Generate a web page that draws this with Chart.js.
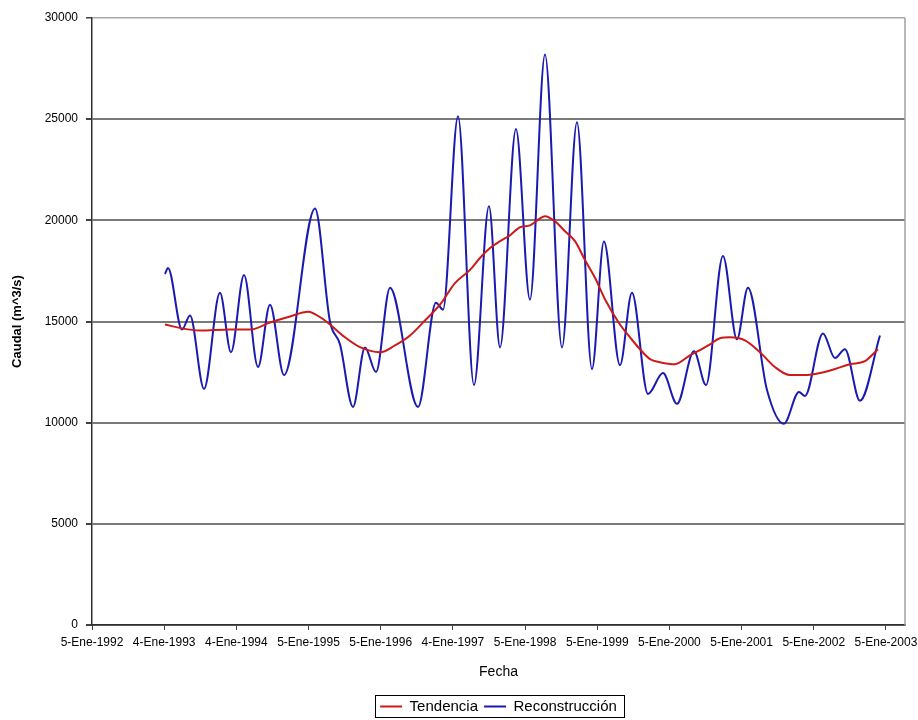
<!DOCTYPE html>
<html>
<head>
<meta charset="utf-8">
<script src="https://cdn.jsdelivr.net/npm/chart.js@4/dist/chart.umd.min.js"></script>
<style>
  body { margin: 0; background: #fff; }
</style>
</head>
<body>
<canvas id="caudalChart" width="918" height="720"></canvas>
<script>
// fechas en años decimales (eje lineal, una marca cada año desde 5-Ene-1992)
var etiquetasFecha = ['5-Ene-1992', '4-Ene-1993', '4-Ene-1994', '5-Ene-1995', '5-Ene-1996', '4-Ene-1997',
  '5-Ene-1998', '5-Ene-1999', '5-Ene-2000', '5-Ene-2001', '5-Ene-2002', '5-Ene-2003'];
var fechaTicks = [1992, 1993, 1994, 1995, 1996, 1997, 1998, 1999, 2000, 2001, 2002, 2003];
var caudalTicks = [0, 5000, 10000, 15000, 20000, 25000, 30000];

var fechaReconstruccion = [1993.011, 1993.053, 1993.247, 1993.358, 1993.552, 1993.773, 1993.926, 1994.106,
  1994.300, 1994.466, 1994.660, 1995.090, 1995.297, 1995.436, 1995.616, 1995.782, 1995.935, 1996.129,
  1996.517, 1996.766, 1996.863, 1997.071, 1997.292, 1997.500, 1997.653, 1997.874, 1998.068, 1998.276,
  1998.512, 1998.719, 1998.927, 1999.093, 1999.315, 1999.481, 1999.703, 1999.911, 2000.105, 2000.340,
  2000.507, 2000.742, 2000.936, 2001.088, 2001.352, 2001.587, 2001.795, 2001.878, 2002.127, 2002.294,
  2002.432, 2002.640, 2002.917];
var caudalReconstruccion = [17350, 17650, 14600, 15300, 11670, 16420, 13480, 17300,
  12750, 15830, 12350, 20590, 15000, 13870, 10780, 13720, 12500, 16670,
  10780, 15930, 15590, 25150, 11860, 20690, 13720, 24510, 16080, 28190,
  13720, 24850, 12650, 18950, 12840, 16420, 11420, 12450, 10930, 13530,
  11860, 18240, 14120, 16670, 11620, 9950, 11520, 11320, 14410, 13190,
  13630, 11080, 14310];

var fechaTendencia = [1993.011, 1993.247, 1993.496, 1993.912, 1994.189, 1994.466, 1994.743, 1994.992,
  1995.187, 1995.297, 1995.505, 1995.713, 1995.990, 1996.198, 1996.406, 1996.613, 1996.821, 1997.029,
  1997.237, 1997.375, 1997.514, 1997.653, 1997.791, 1997.930, 1998.068, 1998.207, 1998.276, 1998.415,
  1998.553, 1998.692, 1998.830, 1998.969, 1999.107, 1999.315, 1999.454, 1999.592, 1999.731, 1999.869,
  2000.077, 2000.285, 2000.423, 2000.562, 2000.700, 2000.839, 2001.047, 2001.255, 2001.462, 2001.670,
  2001.878, 2002.086, 2002.294, 2002.501, 2002.709, 2002.889];
var caudalTendencia = [14850, 14660, 14560, 14610, 14600, 14950, 15250, 15480,
  15150, 14850, 14220, 13730, 13480, 13820, 14310, 15050, 15830, 16900,
  17550, 18140, 18630, 18970, 19260, 19660, 19750, 20100, 20200, 19950,
  19460, 18970, 18040, 17160, 16100, 14850, 14220, 13630, 13140, 12990,
  12890, 13330, 13580, 13870, 14170, 14220, 14070, 13480, 12750, 12350,
  12350, 12450, 12650, 12890, 13040, 13630];

function puntos(xs, ys) {
  return xs.map(function (x, i) { return { x: x, y: ys[i] }; });
}

var fuenteEje = { family: '"Liberation Sans", Arial', size: 12 };

// recuadro de la leyenda, centrada bajo el area de trazado, y borde derecho
var marcoPlugin = {
  id: 'marco',
  afterLayout: function (chart) {
    var lg = chart.legend;
    var a = chart.chartArea;
    var dx = (a.left + a.right) / 2 - (lg.left + lg.right) / 2;
    lg.left += dx;
    lg.right += dx;
    lg.top += 6;
    lg.bottom += 6;
  },
  beforeDatasetsDraw: function (chart) {
    var a = chart.chartArea;
    var ctx = chart.ctx;
    ctx.save();
    ctx.strokeStyle = '#a0a0a0';
    ctx.lineWidth = 1.5;
    ctx.beginPath();
    ctx.moveTo(a.right, a.top);
    ctx.lineTo(a.right, a.bottom);
    ctx.stroke();
    ctx.restore();
  },
  afterDraw: function (chart) {
    var boxes = chart.legend.legendHitBoxes;
    if (!boxes || !boxes.length) return;
    var left = Math.min.apply(null, boxes.map(function (b) { return b.left; }));
    var right = Math.max.apply(null, boxes.map(function (b) { return b.left + b.width; }));
    var top = Math.min.apply(null, boxes.map(function (b) { return b.top; }));
    var bottom = Math.max.apply(null, boxes.map(function (b) { return b.top + b.height; }));
    var ctx = chart.ctx;
    ctx.save();
    ctx.strokeStyle = '#000';
    ctx.lineWidth = 1;
    ctx.strokeRect(Math.round(left - 5) + 0.5, Math.round(top - 4) + 0.5, Math.round(right - left + 12), Math.round(bottom - top + 7));
    ctx.restore();
  }
};

new Chart(document.getElementById('caudalChart'), {
  type: 'line',
  data: {
    datasets: [
      {
        label: 'Tendencia',
        data: puntos(fechaTendencia, caudalTendencia),
        borderColor: '#cc1a1a',
        backgroundColor: '#cc1a1a',
        borderWidth: 2,
        pointRadius: 0,
        cubicInterpolationMode: 'monotone'
      },
      {
        label: 'Reconstrucción',
        data: puntos(fechaReconstruccion, caudalReconstruccion),
        borderColor: '#1a1ab0',
        backgroundColor: '#1a1ab0',
        borderWidth: 2,
        pointRadius: 0,
        cubicInterpolationMode: 'monotone'
      }
    ]
  },
  options: {
    responsive: false,
    animation: false,
    layout: { padding: { left: 4, right: 13, top: 18, bottom: 2 } },
    plugins: {
      tooltip: { enabled: false },
      legend: {
        position: 'bottom',
        labels: {
          color: '#000',
          font: { family: '"Liberation Sans", Arial', size: 15 },
          usePointStyle: true,
          pointStyle: 'line',
          pointStyleWidth: 22,
          padding: 6
        }
      }
    },
    scales: {
      x: {
        type: 'linear',
        min: 1992,
        max: 2003.264,
        afterFit: function (scale) {
          scale.height = 62;
          // la ultima etiqueta puede salir del area, el lienzo tiene sitio
          scale.paddingLeft = 0;
          scale.paddingRight = 0;
        },
        afterBuildTicks: function (scale) {
          scale.ticks = fechaTicks.map(function (v) { return { value: v }; });
        },
        ticks: {
          color: '#000',
          maxRotation: 0,
          autoSkip: false,
          padding: 5,
          font: fuenteEje,
          callback: function (value, index) { return etiquetasFecha[index]; }
        },
        grid: {
          drawOnChartArea: false,
          drawTicks: true,
          tickLength: 5,
          color: '#404040'
        },
        border: { color: '#303030', width: 1.5 },
        title: {
          display: true,
          text: 'Fecha',
          color: '#000',
          font: { family: '"Liberation Sans", Arial', size: 14 },
          padding: { top: 0, bottom: 6 }
        }
      },
      y: {
        min: 0,
        max: 30000,
        afterFit: function (scale) { scale.width = 88; },
        afterBuildTicks: function (scale) {
          scale.ticks = caudalTicks.map(function (v) { return { value: v }; });
        },
        ticks: {
          color: '#000',
          padding: 8,
          font: fuenteEje,
          callback: function (value) { return String(value); }
        },
        grid: {
          tickLength: 6,
          lineWidth: function (c) { return c.tick && c.tick.value === 30000 ? 1.5 : 2; },
          color: function (c) { return c.tick && c.tick.value === 30000 ? '#a8a8a8' : '#7a7a7a'; },
          tickColor: '#404040'
        },
        border: { color: '#303030', width: 1.5 },
        title: {
          display: true,
          text: 'Caudal (m^3/s)',
          color: '#000',
          font: { family: '"Liberation Sans", Arial', size: 13, weight: 'bold' },
          padding: { top: 6, bottom: 0 }
        }
      }
    }
  },
  plugins: [marcoPlugin]
});
</script>
</body>
</html>
